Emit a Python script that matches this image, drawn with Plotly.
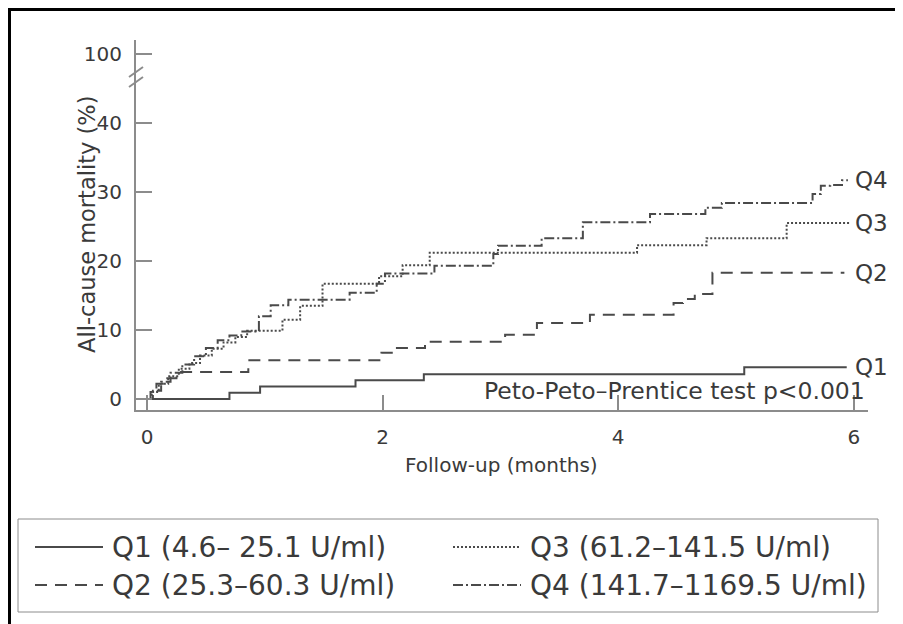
import plotly.graph_objects as go

# ---------------- data ----------------
q1_t = [0, 0.70, 0.96, 1.77, 2.35, 5.07, 5.94]
q1_v = [0, 0.9, 1.8, 2.7, 3.6, 4.6, 4.6]

q2_t = [0, 0.03, 0.08, 0.15, 0.25, 0.86, 1.99, 2.09, 2.36, 3.04, 3.31, 3.76, 4.47, 4.55, 4.65, 4.80, 5.92]
q2_v = [0, 1.0, 2.2, 3.0, 3.9, 5.6, 6.7, 7.4, 8.3, 9.3, 11.0, 12.2, 13.9, 14.5, 15.2, 18.3, 18.3]

q3_t = [0, 0.04, 0.10, 0.18, 0.27, 0.36, 0.45, 0.55, 0.65, 0.75, 0.85, 1.15, 1.30, 1.49, 1.97, 2.17, 2.40, 4.16, 4.75, 5.43, 5.97]
q3_v = [0, 1.0, 2.2, 3.3, 4.4, 5.2, 6.3, 7.3, 8.2, 9.0, 9.9, 11.5, 13.5, 16.7, 17.8, 19.4, 21.2, 22.3, 23.3, 25.5, 25.5]

q4_t = [0, 0.05, 0.12, 0.20, 0.30, 0.40, 0.50, 0.60, 0.70, 0.80, 0.95, 1.05, 1.20, 1.72, 1.95, 2.02, 2.44,
        2.94, 2.98, 3.35, 3.70, 4.27, 4.74, 4.88, 5.65, 5.72, 5.80, 5.90, 5.95]
q4_v = [0, 1.2, 2.5, 3.8, 5.0, 6.2, 7.4, 8.5, 9.2, 9.8, 12.0, 13.6, 14.4, 15.4, 16.7, 18.2, 19.3,
        21.0, 22.2, 23.3, 25.6, 26.8, 27.7, 28.4, 29.7, 30.9, 31.0, 31.7, 31.7]

series_names = ["Q1", "Q2", "Q3", "Q4"]
legend_labels = ["Q1 (4.6\u2013 25.1 U/ml)", "Q2 (25.3\u201360.3 U/ml)",
                 "Q3 (61.2\u2013141.5 U/ml)", "Q4 (141.7\u20131169.5 U/ml)"]
x_ticks = [0, 2, 4, 6]
y_tickvals = [0, 10, 20, 30, 40, 50]
y_ticktext = ["0", "10", "20", "30", "40", "100"]

# ---------------- layout geometry (page pixel coordinates) ----------------
OFF = 8                      # page body margin
W, H = 903 - OFF, 624 - OFF
PL, PR, PT, PB = 136, 868, 40, 410   # plot area in page pixels
L, R, T, B = PL - OFF, W - (PR - OFF), PT - OFF, H - (PB - OFF)
PW, PH = PR - PL, PB - PT
FONT = "DejaVu Sans"
LINE_COL = "#4a4a4a"
AXIS_COL = "#8c8c8c"
TEXT_COL = "#3a3a3a"


def px(x):
    return (x - PL) / PW


def py(y):
    return (PB - y) / PH


dashes = ["solid", "12px,8px", "2px,2px", "10px,3px,2px,3px"]
data_t = [q1_t, q2_t, q3_t, q4_t]
data_v = [q1_v, q2_v, q3_v, q4_v]

fig = go.Figure()
for name, t, v, d in zip(series_names, data_t, data_v, dashes):
    fig.add_trace(go.Scatter(x=t, y=v, mode="lines", line_shape="hv", name=name,
                             line=dict(color=LINE_COL, width=2, dash=d), showlegend=False))

shapes = []
annotations = []

# right-hand curve labels
for name, v in zip(series_names, data_v):
    annotations.append(dict(x=px(853), xref="paper", y=v[-1], yref="y", text=name, showarrow=False,
                            xanchor="left", yanchor="middle",
                            font=dict(family=FONT, size=23, color=TEXT_COL)))

annotations.append(dict(x=px(482), xref="paper", y=py(391), yref="paper",
                        text="Peto-Peto\u2013Prentice test p&lt;0.001", showarrow=False,
                        xanchor="left", yanchor="middle",
                        font=dict(family=FONT, size=23.5, color=TEXT_COL)))

# axis titles
annotations.append(dict(x=px(501), xref="paper", y=py(465), yref="paper", text="Follow-up (months)",
                        showarrow=False, xanchor="center", yanchor="middle",
                        font=dict(family=FONT, size=20, color=TEXT_COL)))
annotations.append(dict(x=px(87), xref="paper", y=py(225), yref="paper", text="All-cause mortality (%)",
                        showarrow=False, xanchor="center", yanchor="middle", textangle=-90,
                        font=dict(family=FONT, size=22.5, color=TEXT_COL)))

# axis break marks
for y0 in (72, 82):
    shapes.append(dict(type="line", xref="paper", yref="paper", x0=px(129), y0=py(y0 + 5),
                       x1=px(143), y1=py(y0 - 5), line=dict(color=AXIS_COL, width=2)))

# outer frame (left + top)
shapes.append(dict(type="line", xref="paper", yref="paper", x0=px(9.5), y0=py(8), x1=px(9.5), y1=py(640),
                   line=dict(color="black", width=3)))
shapes.append(dict(type="line", xref="paper", yref="paper", x0=px(8), y0=py(9.5), x1=px(920), y1=py(9.5),
                   line=dict(color="black", width=3)))

# legend box
shapes.append(dict(type="rect", xref="paper", yref="paper", x0=px(18), y0=py(519), x1=px(878), y1=py(612),
                   line=dict(color="#8c8c8c", width=1)))
leg_pos = [(35, 547), (35, 585), (453, 547), (453, 585)]
for (lx, ly), lab, d in zip(leg_pos, legend_labels, dashes):
    shapes.append(dict(type="line", xref="paper", yref="paper", x0=px(lx), y0=py(ly), x1=px(lx + 68),
                       y1=py(ly), line=dict(color=LINE_COL, width=2, dash=d)))
    annotations.append(dict(x=px(lx + 75), xref="paper", y=py(ly), yref="paper", text=lab, showarrow=False,
                            xanchor="left", yanchor="middle",
                            font=dict(family=FONT, size=28, color=TEXT_COL)))

x0px, xscale = 147, 117.8
y0px, yscale = 399, 6.9
fig.update_layout(
    width=W, height=H, margin=dict(l=L, r=R, t=T, b=B),
    paper_bgcolor="white", plot_bgcolor="white",
    shapes=shapes, annotations=annotations,
    font=dict(family=FONT, color=TEXT_COL),
    xaxis=dict(range=[(PL - x0px) / xscale, (PR - x0px) / xscale], tickvals=x_ticks,
               ticks="inside", ticklen=15, tickwidth=2, tickcolor=AXIS_COL,
               showline=True, linecolor=AXIS_COL, linewidth=2, showgrid=False, zeroline=False,
               tickfont=dict(family=FONT, size=20, color=TEXT_COL), ticklabelstandoff=8),
    yaxis=dict(range=[(y0px - PB) / yscale, (y0px - PT) / yscale], tickvals=y_tickvals,
               ticktext=y_ticktext, ticks="inside", ticklen=16, tickwidth=2, tickcolor=AXIS_COL,
               showline=True, linecolor=AXIS_COL, linewidth=2, showgrid=False, zeroline=False,
               tickfont=dict(family=FONT, size=20, color=TEXT_COL), ticklabelstandoff=8),
)

fig.write_html("out.html")
